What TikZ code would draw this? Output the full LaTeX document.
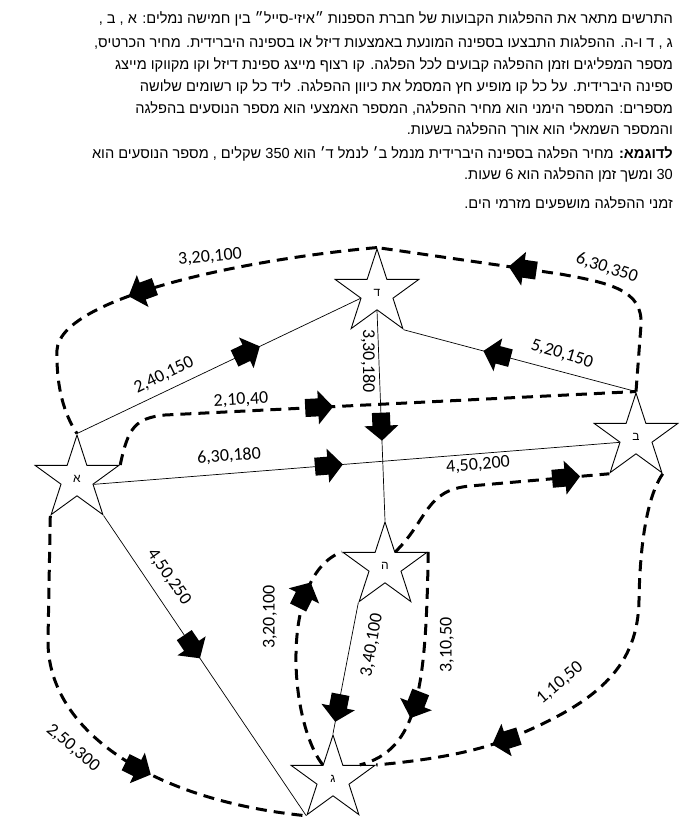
\documentclass[tikz,border=0pt]{standalone}
\usepackage{fontspec}
\setmainfont{Carlito}
\newfontfamily\hebfont[Script=Hebrew]{Liberation Sans}
\TeXXeTstate=1
\usetikzlibrary{shapes.geometric,calc}

\tikzset{
  blkarr/.pic={\path[fill=black,draw=none] (0,0) -- (-15,17) -- (-15,9) -- (-28,9) -- (-28,-9) -- (-15,-9) -- (-15,-17) -- cycle;}
}

\begin{document}
\begin{tikzpicture}[x=1pt,y=-1pt,
  port/.style={star,star points=5,star point ratio=2.618,draw,line width=0.9pt,fill=white,minimum size=88pt,inner sep=0pt,font=\hebfont\fontsize{12}{12}\selectfont},
  diesel/.style={line width=0.7pt},
  hybrid/.style={line width=3pt,dash pattern=on 11pt off 7pt},
  num/.style={font=\fontsize{18}{18}\selectfont,inner sep=0pt},
  txt/.style={anchor=east,inner sep=0pt,font=\hebfont\fontsize{14.6}{18}\selectfont},
  arr/.style={sloped,allow upside down}]
  \useasboundingbox (0,0) rectangle (683,830);

  \node[txt] (t1) at (673,19) {\beginR התרשים מתאר את ההפלגות הקבועות של חברת הספנות ״איזי-סייל״ בין חמישה נמלים: א , ב ,\endR};
  \node[txt] (t2) at (673,42) {\beginR ג , ד ו-ה. ההפלגות התבצעו בספינה המונעת באמצעות דיזל או בספינה היברידית. מחיר הכרטיס,\endR};
  \node[txt] (t3) at (673,65) {\beginR מספר המפליגים וזמן ההפלגה קבועים לכל הפלגה. קו רצוף מייצג ספינת דיזל וקו מקווקו מייצג\endR};
  \node[txt] (t4) at (673,87) {\beginR ספינה היברידית. על כל קו מופיע חץ המסמל את כיוון ההפלגה. ליד כל קו רשומים שלושה\endR};
  \node[txt] (t5) at (673,108) {\beginR מספרים: המספר הימני הוא מחיר ההפלגה, המספר האמצעי הוא מספר הנוסעים בהפלגה\endR};
  \node[txt] (t6) at (673,130) {\beginR והמספר השמאלי הוא אורך ההפלגה בשעות.\endR};
  \node[txt] (t7) at (673,154) {\beginR{\bfseries לדוגמא:} מחיר הפלגה בספינה היברידית מנמל ב׳ לנמל ד׳ הוא \beginL350\endL{} שקלים , מספר הנוסעים הוא\endR};
  \node[txt] (t8) at (673,175) {\beginR\beginL30\endL{} ומשך זמן ההפלגה הוא \beginL6\endL{} שעות.\endR};
  \node[txt] (t9) at (673,203) {\beginR זמני ההפלגה מושפעים מזרמי הים.\endR};

  \node[port] (A) at (77,479) {א};
  \node[port] (D) at (377,293) {ד};
  \node[port] (B) at (636,437) {ב};
  \node[port] (H) at (385,566) {ה};
  \node[port] (G) at (333,779) {ג};
  \coordinate (g5) at ($(G.inner point 5)!.5!(G.outer point 5)$);

  % diesel
  \draw[diesel] (A.outer point 1) -- (D.inner point 2) pic[arr,pos=.645]{blkarr};
  \draw[diesel] (A.inner point 4) -- (B.inner point 2) pic[arr,pos=.474]{blkarr};
  \draw[diesel] (A.outer point 4) -- (G.outer point 3) pic[arr,pos=.475]{blkarr};
  \draw[diesel] (D.inner point 3) -- (H.outer point 1) pic[arr,pos=.62]{blkarr};
  \draw[diesel] (B.outer point 1) -- (D.outer point 4) pic[arr,pos=.657]{blkarr};
  \draw[diesel] (H.outer point 3) -- (G.outer point 1) pic[arr,pos=.91]{blkarr};

  % hybrid
  \draw[hybrid] (D.outer point 1) .. controls (230,261) and (60,300) .. (57,350) pic[arr,pos=.6]{blkarr}
    .. controls (56,395) and (68,420) .. (A.outer point 1);
  \draw[hybrid] (B.outer point 1) -- (641,325) .. controls (643,290) and (610,283) .. (560,274)
    -- (D.outer point 1) pic[arr,pos=.28]{blkarr};
  \draw[hybrid] (A.outer point 5) .. controls (128,428) and (135,418) .. (165,415)
    -- (B.outer point 1) pic[arr,pos=.357]{blkarr};
  \draw[hybrid] (H.inner point 5) .. controls (428,520) and (425,490) .. (470,486)
    -- (B.outer point 3) pic[arr,pos=.79]{blkarr};
  \draw[hybrid] (B.outer point 4) .. controls (648,495) and (640,540) .. (639,600)
    .. controls (638,665) and (600,700) .. (520,734)
    .. controls (480,752) and (430,760) .. (G.outer point 5) pic[arr,pos=.22]{blkarr};
  \draw[hybrid] (H.outer point 5) .. controls (426,690) and (418,750) .. (g5) pic[arr,pos=.57]{blkarr};
  \draw[hybrid] (G.inner point 1) .. controls (288,720) and (280,575) .. (H.outer point 2) pic[arr,pos=.78]{blkarr};
  \draw[hybrid] (A.outer point 3) -- (48,640) .. controls (47,730) and (150,800) .. (G.outer point 3) pic[arr,pos=.61]{blkarr};

  \node[num,rotate=5] (n1) at (210,257) {3,20,100};
  \node[num,rotate=-18] (n2) at (607,268) {6,30,350};
  \node[num,rotate=-90] (n3) at (368,361) {3,30,180};
  \node[num,rotate=-17] (n4) at (562,354) {5,20,150};
  \node[num,rotate=26] (n5) at (164,375) {2,40,150};
  \node[num,rotate=3] (n6) at (241,400) {2,10,40};
  \node[num,rotate=4] (n7) at (229,456) {6,30,180};
  \node[num,rotate=5] (n8) at (478,465) {4,50,200};
  \node[num,rotate=-55] (n9) at (169,577) {4,50,250};
  \node[num,rotate=90] (n10) at (270,617) {3,20,100};
  \node[num,rotate=80] (n11) at (372,645) {3,40,100};
  \node[num,rotate=90] (n12) at (447,645) {3,10,50};
  \node[num,rotate=40] (n13) at (560,683) {1,10,50};
  \node[num,rotate=-40] (n14) at (73,748) {2,50,300};
\end{tikzpicture}
\end{document}
